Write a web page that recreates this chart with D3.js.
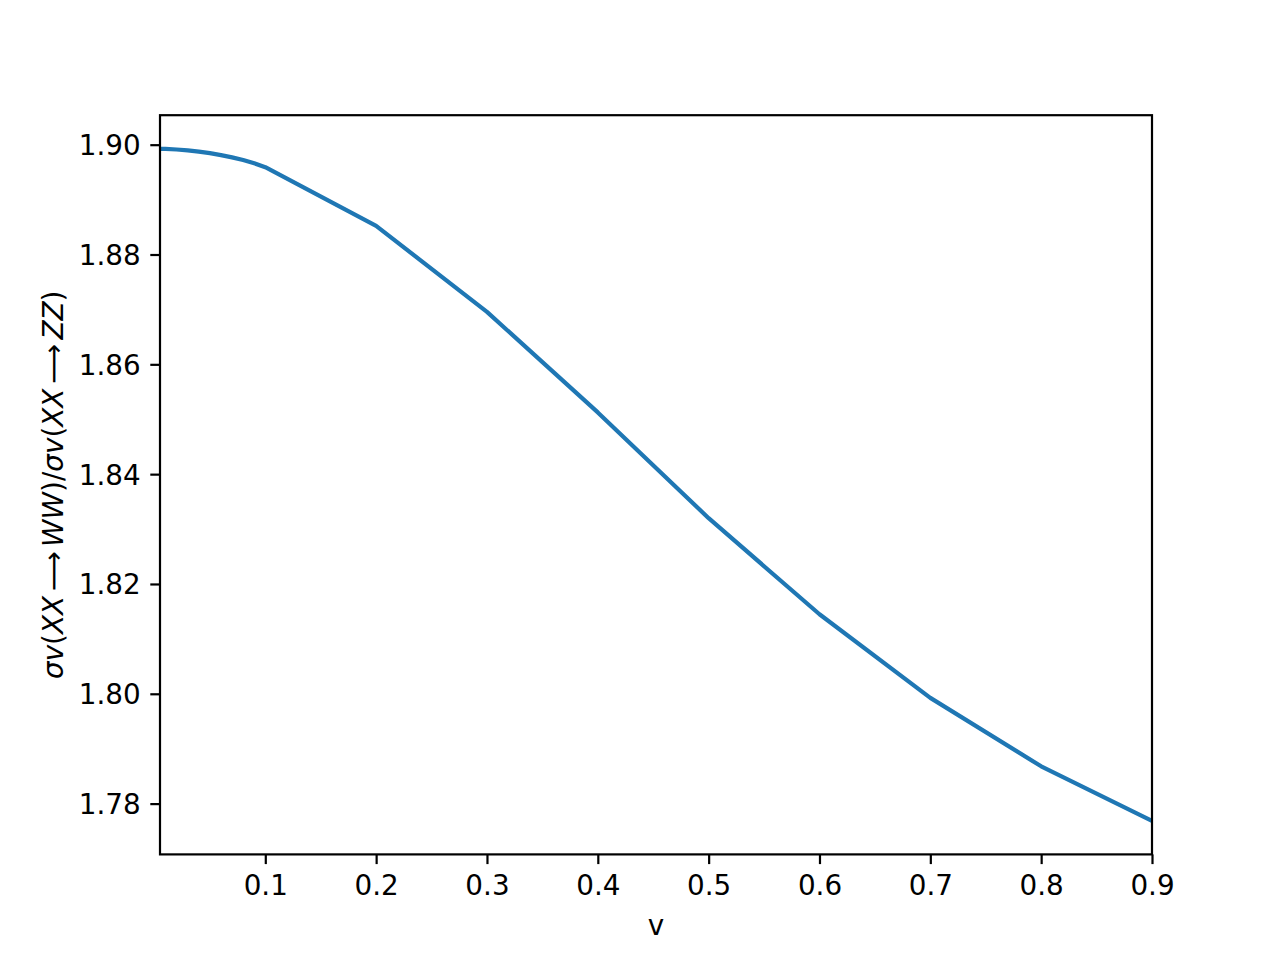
<!DOCTYPE html>
<html lang="en">
  <head>
    <meta charset="utf-8" />
    <title>sigma v ratio WW / ZZ</title>
    <script src="https://cdn.jsdelivr.net/npm/d3@7"></script>
    <style>
      body { margin: 0; background: #fff; }
      text { font-family: "DejaVu Sans", sans-serif; fill: #000; }
    </style>
  </head>
  <body>
    <div id="plot"></div>
    <script type="text/javascript">
      // velocity values and the cross section ratio
      const vValues = [0.005, 0.01, 0.02, 0.03, 0.04, 0.05, 0.06, 0.07, 0.08, 0.09,
                       0.1, 0.2, 0.3, 0.4, 0.5, 0.6, 0.7, 0.8, 0.9];
      const ratioValues = [1.89925, 1.89922, 1.89912, 1.89896, 1.89874, 1.89845, 1.89810, 1.89769, 1.89720, 1.89662,
                           1.89590, 1.88521, 1.86956, 1.85124, 1.83198, 1.81449, 1.79926, 1.78679, 1.77687];
      const xTicks = [0.1, 0.2, 0.3, 0.4, 0.5, 0.6, 0.7, 0.8, 0.9];
      const yTicks = [1.78, 1.80, 1.82, 1.84, 1.86, 1.88, 1.90];

      const width = 1280, height = 960;
      const mLeft = 160, mRight = 1152, mTop = 115.2, mBottom = 854.4;
      const tickLen = 9.7, tickPad = 9.7, fontSize = 27.8;

      const svg = d3.select("#plot").append("svg")
        .attr("width", width).attr("height", height);

      const x = d3.scaleLinear()
        .domain([vValues[0], vValues[vValues.length - 1]])
        .range([mLeft, mRight]);

      // matplotlib style 5% margin on y
      const [yMin, yMax] = d3.extent(ratioValues);
      const pad = (yMax - yMin) * 0.05;
      const y = d3.scaleLinear()
        .domain([yMin - pad, yMax + pad])
        .range([mBottom, mTop]);

      const pts = vValues.map((v, i) => [v, ratioValues[i]]);
      svg.append("path")
        .datum(pts)
        .attr("fill", "none")
        .attr("stroke", "#1f77b4")
        .attr("stroke-width", 4.2)
        .attr("stroke-linejoin", "round")
        .attr("stroke-linecap", "butt")
        .attr("d", d3.line().x(d => x(d[0])).y(d => y(d[1])));

      const xAxis = svg.append("g")
        .attr("transform", `translate(0,${mBottom})`)
        .call(d3.axisBottom(x).tickValues(xTicks).tickFormat(d3.format(".1f"))
          .tickSize(tickLen).tickPadding(tickPad).tickSizeOuter(0));
      const yAxis = svg.append("g")
        .attr("transform", `translate(${mLeft},0)`)
        .call(d3.axisLeft(y).tickValues(yTicks).tickFormat(d3.format(".2f"))
          .tickSize(tickLen).tickPadding(tickPad).tickSizeOuter(0));

      [xAxis, yAxis].forEach(g => {
        g.select(".domain").remove();
        g.selectAll(".tick line").attr("stroke", "#000").attr("stroke-width", 2.2);
        g.selectAll(".tick text")
          .attr("font-family", "DejaVu Sans")
          .attr("font-size", fontSize)
          .attr("fill", "#000");
      });
      xAxis.selectAll(".tick text").attr("dy", "0.75em");
      yAxis.selectAll(".tick text").attr("dy", "0.36em");

      // frame
      svg.append("rect")
        .attr("x", mLeft).attr("y", mTop)
        .attr("width", mRight - mLeft).attr("height", mBottom - mTop)
        .attr("fill", "none")
        .attr("stroke", "#000")
        .attr("stroke-width", 2.2)
        .attr("stroke-linejoin", "miter");

      svg.append("text")
        .attr("x", (mLeft + mRight) / 2)
        .attr("y", 935)
        .attr("text-anchor", "middle")
        .attr("font-size", fontSize)
        .text("v");

      // y label, mathtext-like: italic letters, upright parens and arrows
      const ylab = svg.append("text")
        .attr("transform", `translate(63,${(mTop + mBottom) / 2}) rotate(-90)`)
        .attr("text-anchor", "middle")
        .attr("font-size", fontSize);
      const parts = [
        ["σv", true, 0], ["(", false, 0], ["XX", true, 0], ["\u27F6", false, 4.6], ["WW", true, 4.6], [")/", false, 0],
        ["σv", true, 0], ["(", false, 0], ["XX", true, 0], ["\u27F6", false, 4.6], ["ZZ", true, 4.6], [")", false, 0]
      ];
      parts.forEach(([s, it, gap]) => {
        ylab.append("tspan")
          .attr("font-style", it ? "italic" : "normal")
          .attr("dx", gap)
          .text(s);
      });
    </script>
  </body>
</html>
